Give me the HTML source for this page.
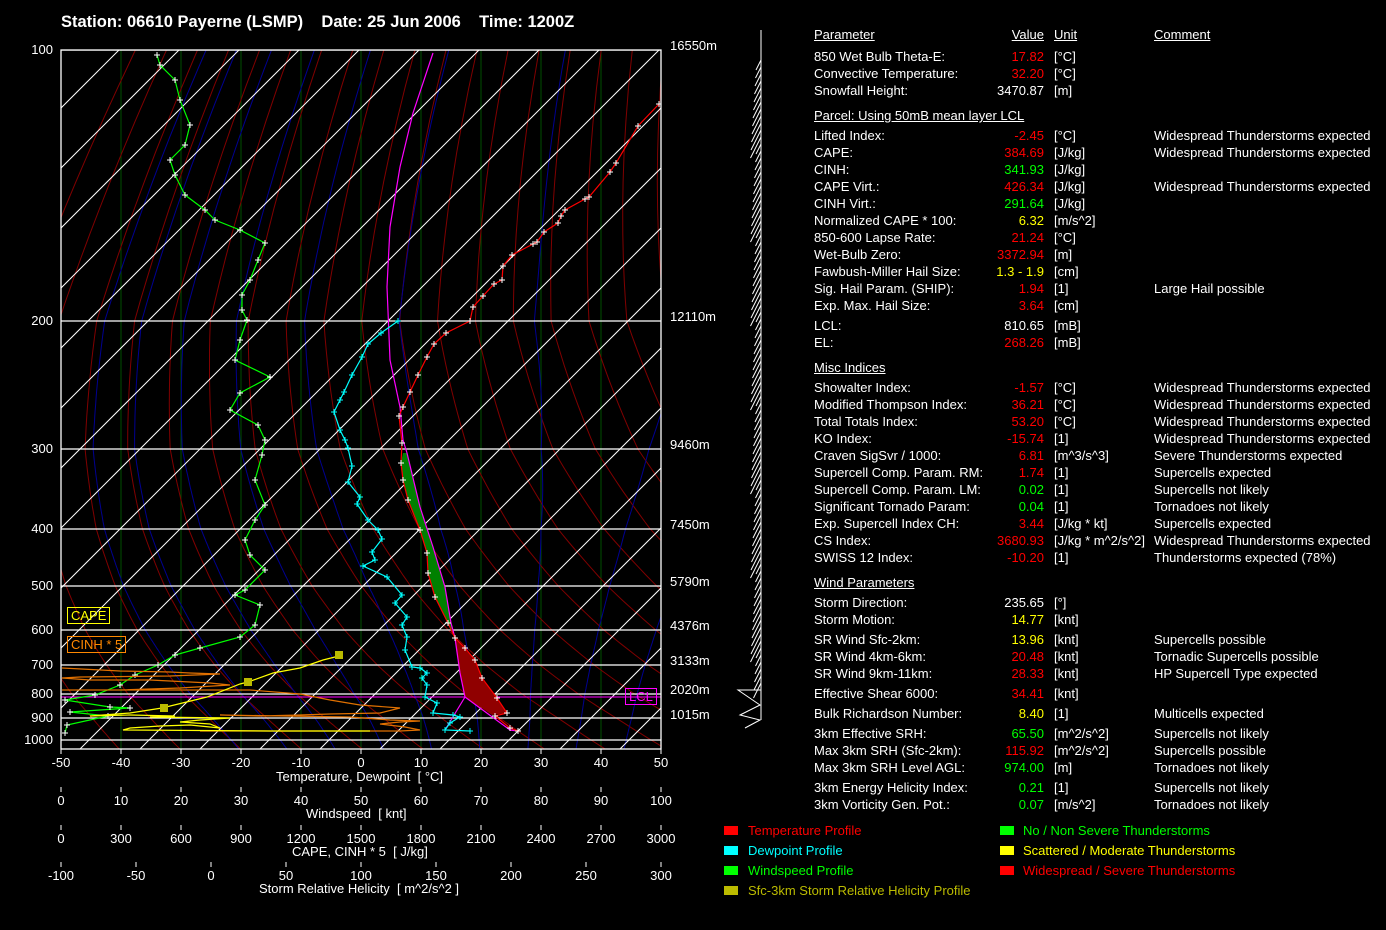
<!DOCTYPE html>
<html><head><meta charset="utf-8">
<style>
body{margin:0;background:#000;width:1386px;height:930px;overflow:hidden;position:relative;font-family:"Liberation Sans",sans-serif;color:#fff;}
.r{position:absolute;left:0;height:16px;font-size:13px;line-height:16px;white-space:nowrap}
.r span{position:absolute;top:0}
.p{left:814px}.v{left:934px;width:110px;text-align:right}.u{left:1054px}.c{left:1154px}
.R{color:#f00}.G{color:#0f0}.Y{color:#ff0}
.h{text-decoration:underline}
.t{position:absolute;font-size:13px;white-space:nowrap}
</style></head><body>
<svg id="s" width="1386" height="930" style="position:absolute;left:0;top:0" xmlns="http://www.w3.org/2000/svg">
<defs><clipPath id="cp"><rect x="61" y="50" width="600" height="699"/></clipPath></defs>
<g id="grid" clip-path="url(#cp)"></g>
<g id="prof" clip-path="url(#cp)"></g>
<g id="frame"></g>
<g id="wind"></g>
</svg>

<div class="t" style="left:61px;top:13px;font-size:16.5px;font-weight:bold">Station: 06610 Payerne (LSMP)&nbsp;&nbsp;&nbsp;&nbsp;Date: 25 Jun 2006&nbsp;&nbsp;&nbsp;&nbsp;Time: 1200Z</div>

<div class="t" style="right:1333px;top:42px">100</div>
<div class="t" style="right:1333px;top:313px">200</div>
<div class="t" style="right:1333px;top:441px">300</div>
<div class="t" style="right:1333px;top:521px">400</div>
<div class="t" style="right:1333px;top:578px">500</div>
<div class="t" style="right:1333px;top:622px">600</div>
<div class="t" style="right:1333px;top:657px">700</div>
<div class="t" style="right:1333px;top:686px">800</div>
<div class="t" style="right:1333px;top:710px">900</div>
<div class="t" style="right:1333px;top:732px">1000</div>

<div class="t" style="left:670px;top:38px">16550m</div>
<div class="t" style="left:670px;top:309px">12110m</div>
<div class="t" style="left:670px;top:437px">9460m</div>
<div class="t" style="left:670px;top:517px">7450m</div>
<div class="t" style="left:670px;top:574px">5790m</div>
<div class="t" style="left:670px;top:618px">4376m</div>
<div class="t" style="left:670px;top:653px">3133m</div>
<div class="t" style="left:670px;top:682px">2020m</div>
<div class="t" style="left:670px;top:707px">1015m</div>

<div class="t" style="left:67px;top:607px;color:#ff0;border:1px solid #ff0;padding:0 3px;font-size:13px">CAPE</div>
<div class="t" style="left:67px;top:636px;color:#f80;border:1px solid #f80;padding:0 3px;font-size:13px">CINH * 5</div>
<div class="t" style="left:625px;top:688px;color:#f0f;border:1px solid #f0f;padding:0 3px;font-size:13px">LCL</div>

<div class="t" style="left:276px;top:769px">Temperature, Dewpoint&nbsp; [ °C]</div>
<div class="t" style="left:306px;top:806px">Windspeed&nbsp; [ knt]</div>
<div class="t" style="left:292px;top:844px">CAPE, CINH * 5&nbsp; [ J/kg]</div>
<div class="t" style="left:259px;top:881px">Storm Relative Helicity&nbsp; [ m^2/s^2 ]</div>

<div class="r" style="top:27px"><span class="p h">Parameter</span><span class="v h">Value</span><span class="u h">Unit</span><span class="c h">Comment</span></div>
<div class="r" style="top:49px"><span class="p">850 Wet Bulb Theta-E:</span><span class="v R">17.82</span><span class="u">[°C]</span></div>
<div class="r" style="top:66px"><span class="p">Convective Temperature:</span><span class="v R">32.20</span><span class="u">[°C]</span></div>
<div class="r" style="top:83px"><span class="p">Snowfall Height:</span><span class="v">3470.87</span><span class="u">[m]</span></div>
<div class="r" style="top:108px"><span class="p h">Parcel: Using 50mB mean layer LCL</span></div>
<div class="r" style="top:128px"><span class="p">Lifted Index:</span><span class="v R">-2.45</span><span class="u">[°C]</span><span class="c">Widespread Thunderstorms expected</span></div>
<div class="r" style="top:145px"><span class="p">CAPE:</span><span class="v R">384.69</span><span class="u">[J/kg]</span><span class="c">Widespread Thunderstorms expected</span></div>
<div class="r" style="top:162px"><span class="p">CINH:</span><span class="v G">341.93</span><span class="u">[J/kg]</span></div>
<div class="r" style="top:179px"><span class="p">CAPE Virt.:</span><span class="v R">426.34</span><span class="u">[J/kg]</span><span class="c">Widespread Thunderstorms expected</span></div>
<div class="r" style="top:196px"><span class="p">CINH Virt.:</span><span class="v G">291.64</span><span class="u">[J/kg]</span></div>
<div class="r" style="top:213px"><span class="p">Normalized CAPE * 100:</span><span class="v Y">6.32</span><span class="u">[m/s^2]</span></div>
<div class="r" style="top:230px"><span class="p">850-600 Lapse Rate:</span><span class="v R">21.24</span><span class="u">[°C]</span></div>
<div class="r" style="top:247px"><span class="p">Wet-Bulb Zero:</span><span class="v R">3372.94</span><span class="u">[m]</span></div>
<div class="r" style="top:264px"><span class="p">Fawbush-Miller Hail Size:</span><span class="v Y">1.3 - 1.9</span><span class="u">[cm]</span></div>
<div class="r" style="top:281px"><span class="p">Sig. Hail Param. (SHIP):</span><span class="v R">1.94</span><span class="u">[1]</span><span class="c">Large Hail possible</span></div>
<div class="r" style="top:298px"><span class="p">Exp. Max. Hail Size:</span><span class="v R">3.64</span><span class="u">[cm]</span></div>
<div class="r" style="top:318px"><span class="p">LCL:</span><span class="v">810.65</span><span class="u">[mB]</span></div>
<div class="r" style="top:335px"><span class="p">EL:</span><span class="v R">268.26</span><span class="u">[mB]</span></div>
<div class="r" style="top:360px"><span class="p h">Misc Indices</span></div>
<div class="r" style="top:380px"><span class="p">Showalter Index:</span><span class="v R">-1.57</span><span class="u">[°C]</span><span class="c">Widespread Thunderstorms expected</span></div>
<div class="r" style="top:397px"><span class="p">Modified Thompson Index:</span><span class="v R">36.21</span><span class="u">[°C]</span><span class="c">Widespread Thunderstorms expected</span></div>
<div class="r" style="top:414px"><span class="p">Total Totals Index:</span><span class="v R">53.20</span><span class="u">[°C]</span><span class="c">Widespread Thunderstorms expected</span></div>
<div class="r" style="top:431px"><span class="p">KO Index:</span><span class="v R">-15.74</span><span class="u">[1]</span><span class="c">Widespread Thunderstorms expected</span></div>
<div class="r" style="top:448px"><span class="p">Craven SigSvr / 1000:</span><span class="v R">6.81</span><span class="u">[m^3/s^3]</span><span class="c">Severe Thunderstorms expected</span></div>
<div class="r" style="top:465px"><span class="p">Supercell Comp. Param. RM:</span><span class="v R">1.74</span><span class="u">[1]</span><span class="c">Supercells expected</span></div>
<div class="r" style="top:482px"><span class="p">Supercell Comp. Param. LM:</span><span class="v G">0.02</span><span class="u">[1]</span><span class="c">Supercells not likely</span></div>
<div class="r" style="top:499px"><span class="p">Significant Tornado Param:</span><span class="v G">0.04</span><span class="u">[1]</span><span class="c">Tornadoes not likely</span></div>
<div class="r" style="top:516px"><span class="p">Exp. Supercell Index CH:</span><span class="v R">3.44</span><span class="u">[J/kg * kt]</span><span class="c">Supercells expected</span></div>
<div class="r" style="top:533px"><span class="p">CS Index:</span><span class="v R">3680.93</span><span class="u">[J/kg * m^2/s^2]</span><span class="c">Widespread Thunderstorms expected</span></div>
<div class="r" style="top:550px"><span class="p">SWISS 12 Index:</span><span class="v R">-10.20</span><span class="u">[1]</span><span class="c">Thunderstorms expected (78%)</span></div>
<div class="r" style="top:575px"><span class="p h">Wind Parameters</span></div>
<div class="r" style="top:595px"><span class="p">Storm Direction:</span><span class="v">235.65</span><span class="u">[°]</span></div>
<div class="r" style="top:612px"><span class="p">Storm Motion:</span><span class="v Y">14.77</span><span class="u">[knt]</span></div>
<div class="r" style="top:632px"><span class="p">SR Wind Sfc-2km:</span><span class="v Y">13.96</span><span class="u">[knt]</span><span class="c">Supercells possible</span></div>
<div class="r" style="top:649px"><span class="p">SR Wind 4km-6km:</span><span class="v R">20.48</span><span class="u">[knt]</span><span class="c">Tornadic Supercells possible</span></div>
<div class="r" style="top:666px"><span class="p">SR Wind 9km-11km:</span><span class="v R">28.33</span><span class="u">[knt]</span><span class="c">HP Supercell Type expected</span></div>
<div class="r" style="top:686px"><span class="p">Effective Shear 6000:</span><span class="v R">34.41</span><span class="u">[knt]</span></div>
<div class="r" style="top:706px"><span class="p">Bulk Richardson Number:</span><span class="v Y">8.40</span><span class="u">[1]</span><span class="c">Multicells expected</span></div>
<div class="r" style="top:726px"><span class="p">3km Effective SRH:</span><span class="v G">65.50</span><span class="u">[m^2/s^2]</span><span class="c">Supercells not likely</span></div>
<div class="r" style="top:743px"><span class="p">Max 3km SRH (Sfc-2km):</span><span class="v R">115.92</span><span class="u">[m^2/s^2]</span><span class="c">Supercells possible</span></div>
<div class="r" style="top:760px"><span class="p">Max 3km SRH Level AGL:</span><span class="v G">974.00</span><span class="u">[m]</span><span class="c">Tornadoes not likely</span></div>
<div class="r" style="top:780px"><span class="p">3km Energy Helicity Index:</span><span class="v G">0.21</span><span class="u">[1]</span><span class="c">Supercells not likely</span></div>
<div class="r" style="top:797px"><span class="p">3km Vorticity Gen. Pot.:</span><span class="v G">0.07</span><span class="u">[m/s^2]</span><span class="c">Tornadoes not likely</span></div>

<div style="position:absolute;left:724px;top:826px;width:14px;height:9px;background:#f00"></div>
<div class="t" style="left:748px;top:823px;color:#f00">Temperature Profile</div>
<div style="position:absolute;left:724px;top:846px;width:14px;height:9px;background:#0ff"></div>
<div class="t" style="left:748px;top:843px;color:#0ff">Dewpoint Profile</div>
<div style="position:absolute;left:724px;top:866px;width:14px;height:9px;background:#0f0"></div>
<div class="t" style="left:748px;top:863px;color:#0f0">Windspeed Profile</div>
<div style="position:absolute;left:724px;top:886px;width:14px;height:9px;background:#bb0"></div>
<div class="t" style="left:748px;top:883px;color:#bb0">Sfc-3km Storm Relative Helicity Profile</div>
<div style="position:absolute;left:1000px;top:826px;width:14px;height:9px;background:#0f0"></div>
<div class="t" style="left:1023px;top:823px;color:#0f0">No / Non Severe Thunderstorms</div>
<div style="position:absolute;left:1000px;top:846px;width:14px;height:9px;background:#ff0"></div>
<div class="t" style="left:1023px;top:843px;color:#ff0">Scattered / Moderate Thunderstorms</div>
<div style="position:absolute;left:1000px;top:866px;width:14px;height:9px;background:#f00"></div>
<div class="t" style="left:1023px;top:863px;color:#f00">Widespread / Severe Thunderstorms</div>

<script>
var NS="http://www.w3.org/2000/svg";
function el(g,t,a){var e=document.createElementNS(NS,t);for(var k in a)e.setAttribute(k,a[k]);g.appendChild(e);return e;}
var P=[100,200,300,400,500,600,700,800,900,1000],Yp=[50,321,449,529,586,630,665,694,718,740];
function py(p){var l=Math.log(p);for(var i=0;i<P.length-1;i++){if(p<=P[i+1]||i==P.length-2){var a=Math.log(P[i]),b=Math.log(P[i+1]);return Yp[i]+(l-a)/(b-a)*(Yp[i+1]-Yp[i]);}}}
function tx(T,y){return 61+(T+50)*6+(749-y);}
var G=document.getElementById('grid');
for(var k=0;k<=10;k++)el(G,'line',{x1:61+60*k,y1:50,x2:61+60*k,y2:749,stroke:'#005000','stroke-width':1});
for(var th=230;th<=480;th+=10){var d='';for(var p=1050;p>=100;p-=10){var y=py(p),T=th*Math.pow(p/1000,0.286)-273.15;d+=(d?'L':'M')+tx(T,y).toFixed(1)+','+y.toFixed(1);}el(G,'path',{d:d,fill:'none',stroke:'#800000','stroke-width':1});}
for(var T0=-20;T0<=44;T0+=8){var T=T0+273.15,d='';for(var p=1050;p>=100;p-=5){var y=py(p),Tc=T-273.15;d+=(d?'L':'M')+tx(Tc,y).toFixed(1)+','+y.toFixed(1);var es=6.112*Math.exp(17.67*Tc/(Tc+243.5)),rs=0.622*es/(p-es);var dT=(287*T+2.5e6*rs)/(p*(1004+2.5e6*2.5e6*rs*0.622/(287*T*T)));T-=dT*5;}el(G,'path',{d:d,fill:'none',stroke:'#000090','stroke-width':1});}
for(var x0=-700;x0<=661;x0+=60)el(G,'line',{x1:x0,y1:749,x2:x0+699,y2:50,stroke:'#fff','stroke-width':1});
for(var i=0;i<Yp.length;i++)el(G,'line',{x1:61,y1:Yp[i],x2:661,y2:Yp[i],stroke:'#fff','stroke-width':1.3});
el(G,'line',{x1:61,y1:697,x2:661,y2:697,stroke:'#f0f','stroke-width':1});
var F=document.getElementById('frame');
el(F,'rect',{x:61,y:50,width:600,height:699,fill:'none',stroke:'#fff','stroke-width':1.3});
var Pr=document.getElementById('prof');
function pl(pts,c,marks,mc){var s=pts.map(function(p){return p.join(',')}).join(' ');el(Pr,'polyline',{points:s,fill:'none',stroke:c,'stroke-width':1.2});if(marks)pts.forEach(function(p){el(Pr,'path',{d:'M'+(p[0]-3)+','+p[1]+'h6M'+p[0]+','+(p[1]-3)+'v6',stroke:mc||'#fff','stroke-width':1});});}
el(Pr,'polygon',{points:'403,453 401,463 403,480 408,500 420,530 427,553 428,573 435,597 448,623 455,636 451,623 445,587 433,547 420,507 407,453',fill:'#008000'});
el(Pr,'polygon',{points:'455,638 465,648 475,660 482,678 497,698 507,713 492,715 465,697 460,673',fill:'#900000'});
pl([[433,53],[413,113],[400,167],[390,227],[387,287],[390,360],[400,407],[403,440],[407,453],[420,507],[433,547],[445,587],[451,623],[455,638],[460,673],[465,697],[510,730],[518,731]],'#f0f');
pl([[445,730],[465,697]],'#f0f');
pl([[659,104],[638,126],[616,163],[610,172],[589,197],[585,199],[565,210],[561,216],[558,223],[544,232],[537,242],[533,244],[512,255],[503,266],[502,280],[494,284],[483,296],[473,307],[470,321],[446,333],[434,344],[427,357],[418,375],[410,392],[403,407],[399,416],[402,443],[401,463],[403,480],[408,500],[420,530],[427,553],[428,573],[435,597],[448,623],[455,638],[465,648],[475,660],[482,678],[497,698],[507,713],[495,716],[510,728],[518,731]],'#f00',true);
pl([[398,321],[381,333],[368,344],[362,357],[352,375],[344,392],[340,400],[334,412],[340,430],[345,440],[348,448],[352,466],[348,482],[360,497],[357,504],[368,520],[378,530],[382,539],[372,552],[375,560],[363,566],[387,577],[402,595],[395,603],[407,617],[402,625],[407,637],[405,650],[412,667],[420,668],[427,673],[422,678],[427,685],[425,697],[437,703],[433,713],[453,715],[460,717],[450,723],[445,730],[470,731]],'#0ff',true,'#0ff');
pl([[157,55],[160,65],[175,80],[180,100],[190,125],[185,145],[170,160],[175,175],[185,195],[205,210],[215,220],[240,230],[265,243],[258,260],[250,280],[242,295],[242,310],[247,320],[240,340],[235,360],[270,377],[240,393],[230,410],[258,425],[265,440],[262,455],[255,480],[265,505],[255,520],[245,540],[250,555],[265,570],[245,590],[235,595],[260,605],[255,625],[240,637],[200,648],[175,655],[158,665],[135,675],[120,685],[95,695],[65,700],[110,707],[130,708],[70,712],[108,716],[67,725],[65,733]],'#0f0',true);
pl([[62,668],[120,671],[170,672],[190,673],[220,674],[170,676],[80,677],[62,678],[90,680],[150,680],[210,683],[230,685],[180,688],[120,690],[62,690],[180,690],[250,690],[300,694],[330,700],[360,705],[400,708],[380,713],[330,714],[300,715],[260,716],[220,715],[350,717],[390,720],[420,721],[400,722],[380,724],[405,727],[420,730],[400,731],[330,731],[200,731]],'#e07000');
pl([[339,656],[323,660],[300,668],[273,673],[248,682],[240,684],[207,697],[162,708],[130,713],[90,716],[130,715],[175,716],[150,717],[230,718],[200,720],[180,722],[210,724],[220,728],[190,725],[160,726],[130,728],[123,730],[270,731],[300,731],[370,731]],'#ff0');
el(Pr,'rect',{x:160,y:704,width:8,height:8,fill:'#bb0'});
el(Pr,'rect',{x:244,y:678,width:8,height:8,fill:'#bb0'});
el(Pr,'rect',{x:335,y:651,width:8,height:8,fill:'#bb0'});
var W=document.getElementById('wind');
el(W,'line',{x1:761,y1:30,x2:761,y2:720,stroke:'#fff','stroke-width':1});
for(var y=60;y<690;y+=7){var L=10+((y*7)%12);el(W,'line',{x1:761,y1:y,x2:761-L*0.5,y2:y+L,stroke:'#fff','stroke-width':1});}
el(W,'path',{d:'M761,690 L738,690 L760,705 L740,715 L760,720 L745,728',fill:'none',stroke:'#fff','stroke-width':1});
</script>
<svg width="1386" height="930" style="position:absolute;left:0;top:0;pointer-events:none" xmlns="http://www.w3.org/2000/svg" font-family="Liberation Sans, sans-serif" font-size="13" fill="#fff" text-anchor="middle">
<g stroke="#fff"><path d="M61,749v5M121,749v5M181,749v5M241,749v5M301,749v5M361,749v5M421,749v5M481,749v5M541,749v5M601,749v5M661,749v5M61,787v5M121,787v5M181,787v5M241,787v5M301,787v5M361,787v5M421,787v5M481,787v5M541,787v5M601,787v5M661,787v5M61,825v5M121,825v5M181,825v5M241,825v5M301,825v5M361,825v5M421,825v5M481,825v5M541,825v5M601,825v5M661,825v5M61,862v5M136,862v5M211,862v5M286,862v5M361,862v5M436,862v5M511,862v5M586,862v5M661,862v5"/></g>
<text x="61" y="767">-50</text><text x="121" y="767">-40</text><text x="181" y="767">-30</text><text x="241" y="767">-20</text><text x="301" y="767">-10</text><text x="361" y="767">0</text><text x="421" y="767">10</text><text x="481" y="767">20</text><text x="541" y="767">30</text><text x="601" y="767">40</text><text x="661" y="767">50</text>
<text x="61" y="805">0</text><text x="121" y="805">10</text><text x="181" y="805">20</text><text x="241" y="805">30</text><text x="301" y="805">40</text><text x="361" y="805">50</text><text x="421" y="805">60</text><text x="481" y="805">70</text><text x="541" y="805">80</text><text x="601" y="805">90</text><text x="661" y="805">100</text>
<text x="61" y="843">0</text><text x="121" y="843">300</text><text x="181" y="843">600</text><text x="241" y="843">900</text><text x="301" y="843">1200</text><text x="361" y="843">1500</text><text x="421" y="843">1800</text><text x="481" y="843">2100</text><text x="541" y="843">2400</text><text x="601" y="843">2700</text><text x="661" y="843">3000</text>
<text x="61" y="880">-100</text><text x="136" y="880">-50</text><text x="211" y="880">0</text><text x="286" y="880">50</text><text x="361" y="880">100</text><text x="436" y="880">150</text><text x="511" y="880">200</text><text x="586" y="880">250</text><text x="661" y="880">300</text>
</svg>
</body></html>
